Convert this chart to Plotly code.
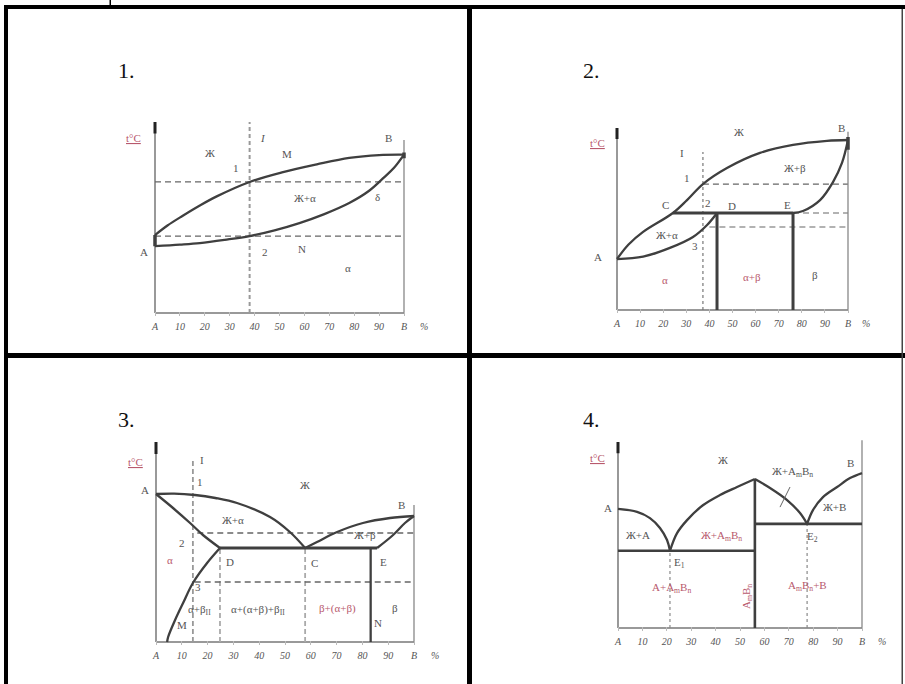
import plotly.graph_objects as go

W, H = 905, 684
SERIF = "Liberation Serif"
CURVE = "#3f3f3f"
TXT = "#555555"
RED = "#b8596d"

# ---- panel 1: unlimited solid solubility ----
p1_liq_x = [0, 5, 11, 18, 25, 38, 51, 65, 78, 90, 100]
p1_liq_t = [40.8, 45.8, 50.8, 56.3, 61.2, 68.6, 73.6, 77.8, 81.2, 82.7, 82.9]
p1_sol_x = [0, 10, 18, 28, 38, 48, 58, 68, 78, 86, 92, 96, 100]
p1_sol_t = [35, 35.8, 36.6, 38.3, 40.3, 43.3, 47.1, 51.8, 57.6, 64, 71, 76, 82.9]
p1_alloy_x = 38
p1_dash_t = [68.6, 40.3]
p1_right_top = 90.6

# ---- panel 2: peritectic ----
p2_liq_x = [0, 5, 11.3, 24.2, 30.3, 37.2, 47.6, 61.9, 76.2, 90.9, 100]
p2_liq_t = [28, 36, 42.9, 53.3, 60.4, 69.2, 78.0, 86.3, 90.7, 92.9, 93.4]
p2_sol_a_x = [0, 11.3, 22.9, 32.9, 39, 43.3]
p2_sol_a_t = [28, 29.3, 34.1, 40.1, 46.7, 53.3]
p2_sol_b_x = [76.2, 80.5, 87.9, 93.5, 97.4, 100]
p2_sol_b_t = [53.3, 54.4, 60.4, 70.3, 80.8, 93.4]
p2_peri_x = [24.2, 76.2]
p2_peri_t = 53.3
p2_d_x = 43.3
p2_e_x = 76.2
p2_alloy_x = 37.2
p2_alloy_top = 86.8
p2_dash_t = [69.2, 53.3, 45.6]
p2_dash_from = [37.2, 76.2, 40]
p2_right_top = 98

# ---- panel 3: eutectic with limited solubility ----
p3_liq_a_x = [0, 7, 15.1, 23, 31.4, 44.2, 51.9, 57.8]
p3_liq_a_t = [74, 74.2, 73.5, 72, 69.5, 62.5, 55, 47]
p3_sol_a_x = [0, 6.6, 13.2, 18.2, 24.8]
p3_sol_a_t = [74, 67, 59.5, 53.5, 47]
p3_solv_a_x = [24.8, 19.8, 14.3, 10.5, 7.4, 4.7, 4.3]
p3_solv_a_t = [47, 39.5, 29.5, 19.5, 11, 2.5, 0]
p3_liq_b_x = [57.8, 62.4, 70.2, 80.2, 90.7, 100]
p3_liq_b_t = [47, 50, 55, 59.5, 62, 63]
p3_sol_b_x = [85.7, 91.9, 96.5, 100]
p3_sol_b_t = [47, 53.5, 59.5, 63]
p3_eut_x = [24.8, 85.7]
p3_eut_t = 47
p3_solv_b_x = 83.2
p3_alloy_x = 14.3
p3_alloy_top = 92
p3_dash_t = [54.5, 30]
p3_dash_from = [16, 15]
p3_drop_x = [24.8, 57.8]
p3_right_top = 68.5

# ---- panel 4: chemical compound AmBn ----
p4_liq1_x = [0, 7.8, 13.1, 17.2, 20.1, 21.3]
p4_liq1_t = [64, 62.4, 59.1, 53.8, 47.3, 41.5]
p4_liq2_x = [21.3, 24.2, 28.3, 34.8, 41.8, 48.8, 56.1]
p4_liq2_t = [41.5, 51, 58, 66, 71.5, 75.8, 80.1]
p4_liq3_x = [56.1, 62.3, 69.3, 74.6, 77.5]
p4_liq3_t = [80.1, 75.3, 68.8, 61.8, 56]
p4_liq4_x = [77.5, 79.9, 84, 89.8, 95.1, 100]
p4_liq4_t = [56, 63.4, 70.4, 75.8, 80.6, 83.3]
p4_e1_t = 41.5
p4_e2_t = 56
p4_comp_x = 56.1
p4_comp_t = 80.1
p4_e1_x = 21.3
p4_e2_x = 77.5
p4_leader_x = [70.5, 66.4]
p4_leader_t = [75.8, 65]
p4_right_top = 101

tick_vals = [0, 10, 20, 30, 40, 50, 60, 70, 80, 90, 100]
tick_text = ["A", "10", "20", "30", "40", "50", "60", "70", "80", "90", "B"]

AM = "A<sub>m</sub>B<sub>n</sub>"
labels = {
    1: [("Ж", 22, 83.8, TXT), ("<i>I</i>", 43.4, 91.6, TXT), ("M", 53, 83.2, TXT),
        ("B", 93.6, 91.6, TXT), ("1", 32.5, 76, TXT), ("Ж+α", 60.2, 60.2, TXT),
        ("δ", 89.2, 60.7, TXT), ("A", -4.4, 32, TXT), ("2", 44.2, 32, TXT),
        ("N", 59, 33.5, TXT), ("α", 77.5, 23.6, TXT), ("<u>t°C</u>", -8.8, 91.6, RED)],
    2: [("Ж", 53, 97.8, TXT), ("B", 97, 100, TXT), ("I", 28.1, 86.3, TXT),
        ("Ж+β", 77.1, 78, TXT), ("1", 30.5, 72.5, TXT), ("C", 21, 57.7, TXT),
        ("2", 39.5, 59, TXT), ("D", 49.8, 57, TXT), ("E", 73.6, 57.7, TXT),
        ("Ж+α", 21.6, 41.2, TXT), ("3", 33.8, 35, TXT), ("A", -8.2, 29, TXT),
        ("α", 20.8, 16.5, RED), ("α+β", 58.4, 18.1, RED), ("β", 85.7, 19, TXT),
        ("<u>t°C</u>", -8.6, 91.8, RED)],
    3: [("<u>t°C</u>", -8.1, 90, RED), ("I", 17.8, 91, TXT), ("1", 17.1, 80, TXT),
        ("Ж", 57.8, 78.5, TXT), ("A", -4.3, 76, TXT), ("B", 95.3, 68.5, TXT),
        ("Ж+α", 29.8, 61, TXT), ("Ж+β", 81, 53.5, TXT), ("2", 10.1, 49.5, TXT),
        ("α", 5.4, 41, RED), ("D", 28.7, 40, TXT), ("C", 61.6, 39.5, TXT),
        ("E", 88, 40, TXT), ("3", 16.3, 27.5, TXT), ("α+β<sub>II</sub>", 17, 16, TXT),
        ("α+(α+β)+β<sub>II</sub>", 39.5, 16, TXT), ("β+(α+β)", 70.2, 17, RED),
        ("β", 92.6, 17, TXT), ("M", 10.1, 8.5, TXT), ("N", 86, 9.5, TXT)],
    4: [("<u>t°C</u>", -8.6, 91.4, RED), ("Ж", 43, 90.3, TXT), ("Ж+" + AM, 71.7, 83.9, TXT),
        ("B", 95.1, 88.7, TXT), ("A", -4.1, 64.5, TXT), ("Ж+B", 88.9, 65, TXT),
        ("Ж+A", 8.2, 50, TXT), ("Ж+" + AM, 42.6, 49.5, RED), ("E<sub>1</sub>", 25.4, 35, TXT),
        ("E<sub>2</sub>", 79.9, 49, TXT), ("A+" + AM, 22.1, 21.5, RED),
        (AM + "+B", 77.5, 22.6, RED)],
}

# pixel calibration of each little diagram (0% / 100% and bottom / top of t axis)
panels = {
    1: dict(x0=155, x1=404, yb=313, yt=122),
    2: dict(x0=617, x1=848, yb=310, yt=128),
    3: dict(x0=156, x1=414, yb=642, yt=442),
    4: dict(x0=618, x1=862, yb=628, yt=442),
}
titles = {1: (126, 70), 2: (591, 70), 3: (126, 419), 4: (591, 419)}
XR = [-12, 112]
YR = [-1.5, 106]

fig = go.Figure()


def ax(n):
    return ("x", "y") if n == 1 else (f"x{n}", f"y{n}")


def line(n, xs, ys, color=CURVE, width=2.3, dash=None, spline=False):
    xa, ya = ax(n)
    fig.add_trace(go.Scatter(
        x=xs, y=ys, mode="lines", xaxis=xa, yaxis=ya, hoverinfo="skip", showlegend=False,
        line=dict(color=color, width=width, dash=dash, shape="spline" if spline else "linear")))


def label(n, text, x, y, color=TXT, size=11, angle=0):
    xa, ya = ax(n)
    fig.add_annotation(x=x, y=y, xref=xa, yref=ya, text=text, showarrow=False,
                       xanchor="center", yanchor="middle",
                       textangle=angle, font=dict(family=SERIF, size=size, color=color))


for n, p in panels.items():
    sx = (p["x1"] - p["x0"]) / 100
    sy = (p["yb"] - p["yt"]) / 100
    xd = [(p["x0"] + XR[0] * sx) / W, (p["x0"] + XR[1] * sx) / W]
    yd = [1 - (p["yb"] - YR[0] * sy) / H, 1 - (p["yb"] - YR[1] * sy) / H]
    xa, ya = ax(n)
    xkey = "xaxis" if n == 1 else f"xaxis{n}"
    ykey = "yaxis" if n == 1 else f"yaxis{n}"
    fig.update_layout({
        xkey: dict(domain=xd, range=XR, anchor=ya, showgrid=False, zeroline=False,
                   showline=False, ticks="inside", ticklen=4, tickcolor="#bbbbbb",
                   tickvals=tick_vals, ticktext=tick_text, fixedrange=True,
                   ticklabelstandoff=3,
                   tickfont=dict(family=SERIF, size=10, color=TXT, style="italic")),
        ykey: dict(domain=yd, range=YR, anchor=xa, visible=False, fixedrange=True),
    })
    # axes drawn as lines
    line(n, [0, 100], [0, 0], color="#777777", width=1.5)
    line(n, [0, 0], [0, 100], color="#777777", width=1.5)
    line(n, [0, 0], [94, 100], color="#222222", width=3)
    fig.add_annotation(x=108, y=0, xref=xa, yref=ya, text="%", showarrow=False,
                       xanchor="center", yanchor="top", yshift=-6,
                       font=dict(family=SERIF, size=10, color=TXT, style="italic"))
    for text, x, y, c in labels[n]:
        label(n, text, x, y, c)
    tx, ty = titles[n]
    fig.add_annotation(x=tx / W, y=1 - ty / H, xref="paper", yref="paper", text=f"{n}.",
                       xanchor="center", yanchor="middle", showarrow=False,
                       font=dict(family=SERIF, size=22, color="#111111"))

# panel 1
line(1, [p1_alloy_x, p1_alloy_x], [0, 100], color="#999999", width=2, dash="4px,3px")
for t in p1_dash_t:
    line(1, [0, 100], [t, t], color="#666666", width=1.2, dash="6px,4px")
line(1, [100, 100], [0, p1_right_top], color="#888888", width=1.3)
line(1, p1_liq_x, p1_liq_t, spline=True)
line(1, p1_sol_x, p1_sol_t, spline=True)
line(1, [0, 0], [p1_sol_t[0], p1_liq_t[0]], width=3.5)
line(1, [100, 100], [81, 84], width=3.5)

# panel 2
line(2, [p2_alloy_x, p2_alloy_x], [0, p2_alloy_top], color="#777777", width=1.2, dash="3px,3px")
for t, x0 in zip(p2_dash_t, p2_dash_from):
    line(2, [x0, 100], [t, t], color="#666666", width=1.2, dash="6px,4px")
line(2, [100, 100], [0, p2_right_top], color="#888888", width=1.3)
line(2, p2_liq_x, p2_liq_t, spline=True)
line(2, p2_sol_a_x, p2_sol_a_t, spline=True)
line(2, p2_sol_b_x, p2_sol_b_t, spline=True)
line(2, p2_peri_x, [p2_peri_t, p2_peri_t], width=3)
line(2, [p2_d_x, p2_d_x], [0, p2_peri_t], width=3)
line(2, [p2_e_x, p2_e_x], [0, p2_peri_t], width=3)
line(2, [100, 100], [88, 95], width=3.5)

# panel 3
line(3, [p3_alloy_x, p3_alloy_x], [0, p3_alloy_top], color="#999999", width=1.8, dash="5px,3px")
for x in p3_drop_x:
    line(3, [x, x], [0, p3_eut_t], color="#aaaaaa", width=1.8, dash="5px,3px")
for t, x0 in zip(p3_dash_t, p3_dash_from):
    line(3, [x0, 100], [t, t], color="#666666", width=1.3, dash="6px,4px")
line(3, [100, 100], [0, p3_right_top], color="#888888", width=1.3)
line(3, p3_liq_a_x, p3_liq_a_t, spline=True)
line(3, p3_sol_a_x, p3_sol_a_t, spline=True)
line(3, p3_solv_a_x, p3_solv_a_t, spline=True)
line(3, p3_liq_b_x, p3_liq_b_t, spline=True)
line(3, p3_sol_b_x, p3_sol_b_t, spline=True)
line(3, p3_eut_x, [p3_eut_t, p3_eut_t], width=3)
line(3, [p3_solv_b_x, p3_solv_b_x], [0, p3_eut_t], width=2.3)

# panel 4
for x, t in ((p4_e1_x, p4_e1_t), (p4_e2_x, p4_e2_t)):
    line(4, [x, x], [0, t], color="#888888", width=1.2, dash="3px,3px")
line(4, [100, 100], [0, p4_right_top], color="#888888", width=1.3)
line(4, p4_liq1_x, p4_liq1_t, spline=True)
line(4, p4_liq2_x, p4_liq2_t, spline=True)
line(4, p4_liq3_x, p4_liq3_t, spline=True)
line(4, p4_liq4_x, p4_liq4_t, spline=True)
line(4, [0, p4_comp_x], [p4_e1_t, p4_e1_t], width=2.6)
line(4, [p4_comp_x, 100], [p4_e2_t, p4_e2_t], width=2.6)
line(4, [p4_comp_x, p4_comp_x], [0, p4_comp_t], width=2.6)
line(4, p4_leader_x, p4_leader_t, color="#666666", width=1)
label(4, AM, 52.9, 16.7, RED, angle=-90)


# table grid
def rect(x0, y0, x1, y1, color="black"):
    fig.add_shape(type="rect", xref="paper", yref="paper", x0=x0 / W, x1=x1 / W,
                  y0=1 - y0 / H, y1=1 - y1 / H, fillcolor=color, line=dict(width=0), layer="above")


rect(4, 5, 905, 9)
rect(4, 5, 8, 684)
rect(467, 5, 472, 684)
rect(4, 353, 905, 358)
rect(901.5, 9, 903, 684, "#444444")
rect(109.5, 0, 111, 5)

fig.update_layout(width=W, height=H, margin=dict(l=0, r=0, t=0, b=0),
                  paper_bgcolor="white", plot_bgcolor="rgba(0,0,0,0)", showlegend=False)
fig.write_html("out.html", config={"displayModeBar": False},
               post_script="document.body.style.margin='0';document.body.style.overflow='hidden';")
